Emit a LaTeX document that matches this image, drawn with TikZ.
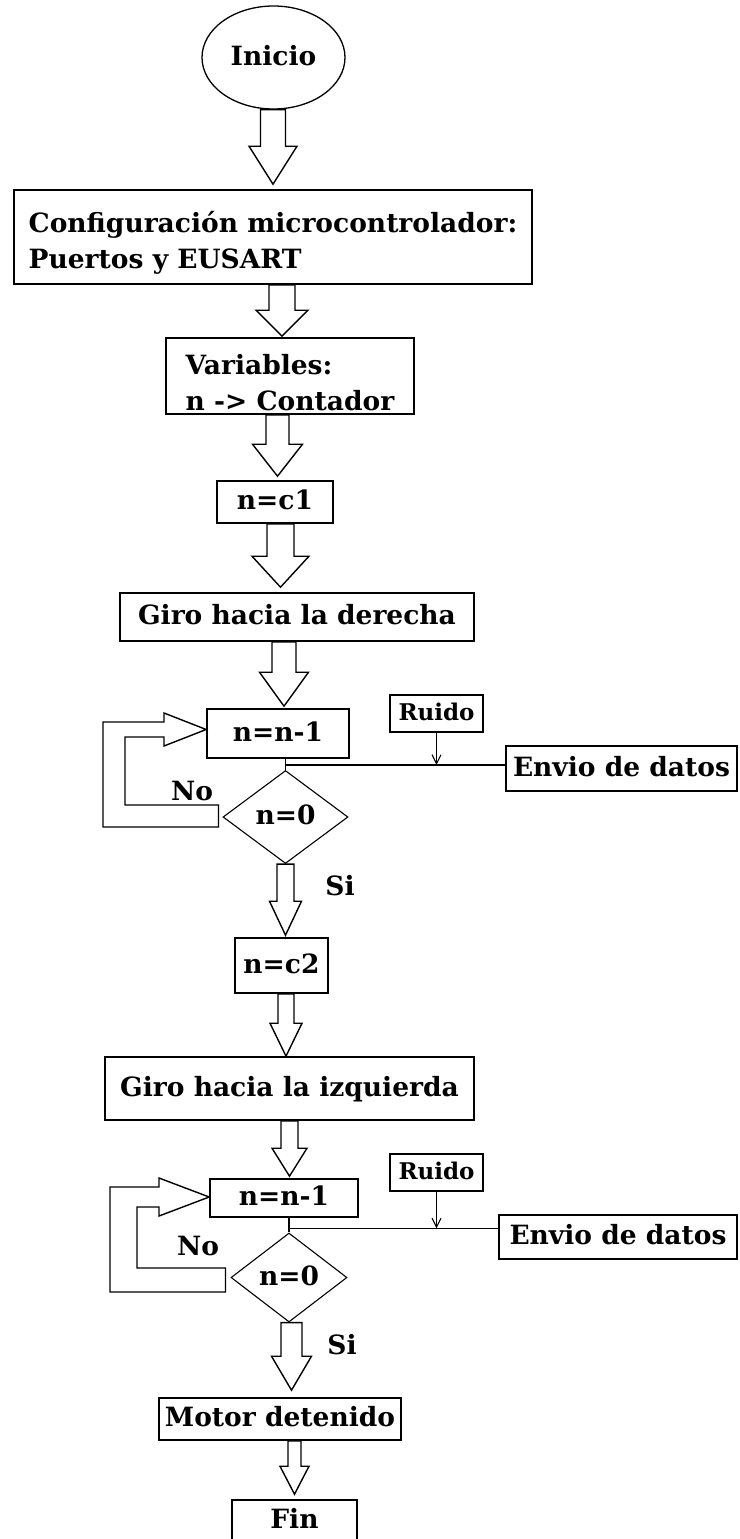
\documentclass[tikz,border=0pt]{standalone}
\usepackage{fontspec}
\setmainfont{DejaVu Serif}
\usetikzlibrary{shapes.geometric,arrows.meta,calc}

\tikzset{
  lbl/.style={font=\bfseries\fontsize{26.5}{36}\selectfont},
  small/.style={font=\bfseries\fontsize{23}{26}\selectfont},
  box/.style={lbl, draw, line width=1.6pt, inner sep=0pt, text height=20pt, text depth=5pt},
  tbox/.style={lbl, draw, line width=1.6pt, inner sep=0pt, align=left},
  rbox/.style={small, draw, line width=1.4pt, inner sep=0pt, text height=17pt, text depth=4pt},
  dia/.style={lbl, diamond, draw, line width=1.1pt, inner sep=0pt, text height=20pt, text depth=5pt},
  blk/.style={draw=black, line width=1.4pt, line join=miter},
  ln/.style={line width=1.5pt},
  tick/.style={line width=1.1pt, -{Straight Barb[length=9pt,width=9pt]}}
}

% hollow block arrow: from node, to node, x of axis, shaft half width,
% head half width, head length, gap before the target
\newcommand\barrow[7]{%
  \draw[blk] let \p1=(#1.south), \p2=(#2.north) in
    (#3pt-#4pt,\y1) -- (#3pt-#4pt,\y2+#7pt+#6pt) -- (#3pt-#5pt,\y2+#7pt+#6pt)
    -- (#3pt,\y2+#7pt) -- (#3pt+#5pt,\y2+#7pt+#6pt) -- (#3pt+#4pt,\y2+#7pt+#6pt)
    -- (#3pt+#4pt,\y1) -- cycle;}
% struts fixing the height of a first line and the depth of a last line
\newcommand\toprule[1]{\rule{0pt}{#1}}
\newcommand\botrule[1]{\rule[-#1]{0pt}{#1}}

\begin{document}
\begin{tikzpicture}[x=1pt,y=-1pt]
\useasboundingbox (0,0) rectangle (739,1539);

% --- nodes of the flow ---
\node[lbl, ellipse, draw, line width=1.3pt, inner sep=0pt, text height=20pt, text depth=5pt,
      minimum width=143pt, minimum height=103pt] (ini) at (273.5,57.5) {Inicio};

\node[tbox, minimum width=518pt, minimum height=94pt] (cfg) at (273,237)
  {\toprule{34pt}Configuración microcontrolador:\\Puertos y EUSART\botrule{8pt}};

\node[tbox, minimum width=248pt, minimum height=76pt] (var) at (290,376)
  {\toprule{36pt}Variables:\\n -> Contador\botrule{4pt}};

\node[box, minimum width=116pt, minimum height=42pt] (c1) at (275,502) {n=c1};

\node[box, minimum width=354pt, minimum height=48pt] (gd) at (297,617) {Giro hacia la derecha};

\node[box, minimum width=142pt, minimum height=49pt] (nn1) at (278,733.5) {n=n-1};
\node[rbox, minimum width=93pt, minimum height=37pt] (r1) at (436.5,713.5) {Ruido};
\node[box, minimum width=231pt, minimum height=45pt] (e1) at (621.5,768.5) {Envio de datos};
\node[dia, minimum width=125pt, minimum height=93pt] (d1) at (285.5,817) {n=0};

\node[box, minimum width=93pt, minimum height=55pt] (c2) at (281.5,965.5) {n=c2};

\node[box, minimum width=369pt, minimum height=63pt] (gi) at (289.5,1088.5) {Giro hacia la izquierda};

\node[box, minimum width=148pt, minimum height=38pt] (nn2) at (284,1198) {n=n-1};
\node[rbox, minimum width=93pt, minimum height=37pt] (r2) at (436.5,1172.5) {Ruido};
\node[box, minimum width=238pt, minimum height=44pt] (e2) at (618,1237) {Envio de datos};
\node[dia, minimum width=116pt, minimum height=89pt] (d2) at (289,1277.5) {n=0};

\node[box, minimum width=242pt, minimum height=42pt] (md) at (280,1419) {Motor detenido};
\node[box, minimum width=125pt, minimum height=42pt] (fin) at (294.5,1521) {Fin};

% --- branch labels ---
\node[lbl, anchor=base] (no1) at (192,800) {No};
\node[lbl, anchor=base] (si1) at (340,895) {Si};
\node[lbl, anchor=base] (no2) at (198,1255) {No};
\node[lbl, anchor=base] (si2) at (342,1354) {Si};

% --- block arrows along the main flow ---
\barrow{ini}{cfg}{273}{12.5}{24}{38}{5}
\barrow{cfg}{var}{282}{13}{26}{26}{1}
\barrow{var}{c1}{277.5}{11.5}{25}{32}{4}
\barrow{c1}{gd}{280.5}{13.5}{28.5}{31}{5}
\barrow{gd}{nn1}{284}{12}{24.5}{34}{2}
\barrow{d1}{c2}{285.5}{8.5}{16}{34}{2}
\barrow{c2}{gi}{286}{8}{16}{33}{0}
\barrow{gi}{nn2}{289.5}{8.5}{17.5}{28}{2}
\barrow{d2}{md}{291.5}{10.5}{20}{34}{7}
\barrow{md}{fin}{294.5}{6.5}{14.5}{28}{5}

% --- "No" loops back to the counter ---
\draw[blk] let \p1=(d1.west), \p2=(nn1.west) in
  (\x1-4pt,\y1+12pt) -- (\x1-4pt,\y1-10pt) -- (103pt,\y1-10pt) -- (103pt,\y2+4pt+7.5pt)
  -- (164pt,\y2+4pt+7.5pt) -- (164pt,\y2+4pt+16.5pt) -- (\x2,\y2+4pt)
  -- (164pt,\y2+4pt-16.5pt) -- (164pt,\y2+4pt-7.5pt) -- (125pt,\y2+4pt-7.5pt)
  -- (125pt,\y1+12pt) -- cycle;
\draw[blk] let \p1=(d2.west), \p2=(nn2.west) in
  (\x1-5pt,\y1+9.5pt) -- (\x1-5pt,\y1-14.5pt) -- (110pt,\y1-14.5pt) -- (110pt,\y2+1pt+10pt)
  -- (159pt,\y2+1pt+10pt) -- (159pt,\y2+1pt+19pt) -- (\x2,\y2+1pt)
  -- (159pt,\y2+1pt-19pt) -- (159pt,\y2+1pt-10pt) -- (137pt,\y2+1pt-10pt)
  -- (137pt,\y1+9.5pt) -- cycle;

% --- data output branch with noise input ---
\coordinate (j1) at ($(d1.north)+(0,-5)$);
\draw[ln] (nn1.south -| d1.north) -- (d1.north);
\draw[ln] (j1) -- (j1 -| e1.west);
\draw[tick] (r1.south) -- (r1.south |- j1);

\coordinate (j2) at ($(d2.north)+(0,-4)$);
\draw[ln] (nn2.south -| d2.north) -- (d2.north);
\draw[ln] (j2) -- (j2 -| e2.west);
\draw[tick] (r2.south) -- (r2.south |- j2);
\end{tikzpicture}
\end{document}
